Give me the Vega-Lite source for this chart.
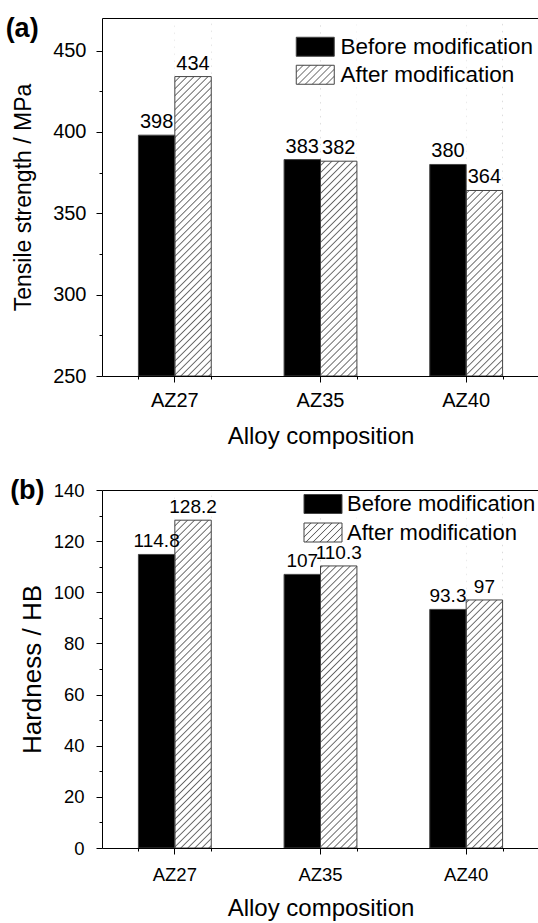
{
"$schema": "https://vega.github.io/schema/vega-lite/v6.json",
"padding": {"left": 5, "top": 14, "right": 0, "bottom": 0},
"bounds": "flush",
"spacing": 114,
"resolve": {"scale": {"fill": "independent", "stroke": "independent"}, "legend": {"fill": "independent", "stroke": "independent"}},
"config": {
  "font": "Liberation Sans",
  "view": {"stroke": null},
  "axis": {"domainColor": "black", "tickColor": "black", "labelColor": "black", "titleColor": "black", "titleFontWeight": "normal", "grid": false, "domainWidth": 1, "tickWidth": 1},
  "title": {"color": "black"}
},
"datasets": {
  "tensile": [
    {"alloy": "AZ27", "group": "Before modification", "value": 398},
    {"alloy": "AZ27", "group": "After modification", "value": 434},
    {"alloy": "AZ35", "group": "Before modification", "value": 383},
    {"alloy": "AZ35", "group": "After modification", "value": 382},
    {"alloy": "AZ40", "group": "Before modification", "value": 380},
    {"alloy": "AZ40", "group": "After modification", "value": 364}
  ],
  "hardness": [
    {"alloy": "AZ27", "group": "Before modification", "value": 114.8},
    {"alloy": "AZ27", "group": "After modification", "value": 128.2},
    {"alloy": "AZ35", "group": "Before modification", "value": 107},
    {"alloy": "AZ35", "group": "After modification", "value": 110.3},
    {"alloy": "AZ40", "group": "Before modification", "value": 93.3},
    {"alloy": "AZ40", "group": "After modification", "value": 97}
  ]
},
"vconcat": [
{
  "width": 437, "height": 358,
  "data": {"name": "tensile"},
  "title": {"text": "(a)", "anchor": "start", "frame": "bounds", "offset": -24.5, "fontSize": 27, "fontWeight": "bold", "dx": -7},
  "resolve": {"axis": {"x": "independent", "y": "independent"}},
  "layer": [
    {
      "transform": [{"filter": "datum.group === 'After modification'"}],
      "mark": {"type": "bar", "stroke": null, "yOffset": 1, "fill": {"gradient":"linear","x1":0,"y1":0,"x2":0.12305,"y2":1.20955,"stops":[
{"offset":0.013,"color":"#fff"},{"offset":0.016,"color":"#666"},{"offset":0.019,"color":"#fff"},
{"offset":0.029,"color":"#fff"},{"offset":0.032,"color":"#666"},{"offset":0.035,"color":"#fff"},
{"offset":0.045,"color":"#fff"},{"offset":0.048,"color":"#666"},{"offset":0.051,"color":"#fff"},
{"offset":0.061,"color":"#fff"},{"offset":0.064,"color":"#666"},{"offset":0.067,"color":"#fff"},
{"offset":0.077,"color":"#fff"},{"offset":0.08,"color":"#666"},{"offset":0.083,"color":"#fff"},
{"offset":0.093,"color":"#fff"},{"offset":0.096,"color":"#666"},{"offset":0.099,"color":"#fff"},
{"offset":0.109,"color":"#fff"},{"offset":0.112,"color":"#666"},{"offset":0.115,"color":"#fff"},
{"offset":0.125,"color":"#fff"},{"offset":0.128,"color":"#666"},{"offset":0.131,"color":"#fff"},
{"offset":0.141,"color":"#fff"},{"offset":0.144,"color":"#666"},{"offset":0.147,"color":"#fff"},
{"offset":0.157,"color":"#fff"},{"offset":0.16,"color":"#666"},{"offset":0.163,"color":"#fff"},
{"offset":0.173,"color":"#fff"},{"offset":0.176,"color":"#666"},{"offset":0.179,"color":"#fff"},
{"offset":0.189,"color":"#fff"},{"offset":0.192,"color":"#666"},{"offset":0.195,"color":"#fff"},
{"offset":0.205,"color":"#fff"},{"offset":0.208,"color":"#666"},{"offset":0.211,"color":"#fff"},
{"offset":0.221,"color":"#fff"},{"offset":0.224,"color":"#666"},{"offset":0.227,"color":"#fff"},
{"offset":0.237,"color":"#fff"},{"offset":0.24,"color":"#666"},{"offset":0.243,"color":"#fff"},
{"offset":0.253,"color":"#fff"},{"offset":0.256,"color":"#666"},{"offset":0.259,"color":"#fff"},
{"offset":0.269,"color":"#fff"},{"offset":0.272,"color":"#666"},{"offset":0.275,"color":"#fff"},
{"offset":0.285,"color":"#fff"},{"offset":0.288,"color":"#666"},{"offset":0.291,"color":"#fff"},
{"offset":0.301,"color":"#fff"},{"offset":0.304,"color":"#666"},{"offset":0.307,"color":"#fff"},
{"offset":0.317,"color":"#fff"},{"offset":0.32,"color":"#666"},{"offset":0.323,"color":"#fff"},
{"offset":0.333,"color":"#fff"},{"offset":0.336,"color":"#666"},{"offset":0.339,"color":"#fff"},
{"offset":0.349,"color":"#fff"},{"offset":0.352,"color":"#666"},{"offset":0.355,"color":"#fff"},
{"offset":0.365,"color":"#fff"},{"offset":0.368,"color":"#666"},{"offset":0.371,"color":"#fff"},
{"offset":0.381,"color":"#fff"},{"offset":0.384,"color":"#666"},{"offset":0.387,"color":"#fff"},
{"offset":0.397,"color":"#fff"},{"offset":0.4,"color":"#666"},{"offset":0.403,"color":"#fff"},
{"offset":0.413,"color":"#fff"},{"offset":0.416,"color":"#666"},{"offset":0.419,"color":"#fff"},
{"offset":0.429,"color":"#fff"},{"offset":0.432,"color":"#666"},{"offset":0.435,"color":"#fff"},
{"offset":0.445,"color":"#fff"},{"offset":0.448,"color":"#666"},{"offset":0.451,"color":"#fff"},
{"offset":0.461,"color":"#fff"},{"offset":0.464,"color":"#666"},{"offset":0.467,"color":"#fff"},
{"offset":0.477,"color":"#fff"},{"offset":0.48,"color":"#666"},{"offset":0.483,"color":"#fff"},
{"offset":0.493,"color":"#fff"},{"offset":0.496,"color":"#666"},{"offset":0.499,"color":"#fff"},
{"offset":0.509,"color":"#fff"},{"offset":0.512,"color":"#666"},{"offset":0.515,"color":"#fff"},
{"offset":0.525,"color":"#fff"},{"offset":0.528,"color":"#666"},{"offset":0.531,"color":"#fff"},
{"offset":0.541,"color":"#fff"},{"offset":0.544,"color":"#666"},{"offset":0.547,"color":"#fff"},
{"offset":0.557,"color":"#fff"},{"offset":0.56,"color":"#666"},{"offset":0.563,"color":"#fff"},
{"offset":0.573,"color":"#fff"},{"offset":0.576,"color":"#666"},{"offset":0.579,"color":"#fff"},
{"offset":0.589,"color":"#fff"},{"offset":0.592,"color":"#666"},{"offset":0.595,"color":"#fff"},
{"offset":0.605,"color":"#fff"},{"offset":0.608,"color":"#666"},{"offset":0.611,"color":"#fff"},
{"offset":0.621,"color":"#fff"},{"offset":0.624,"color":"#666"},{"offset":0.627,"color":"#fff"},
{"offset":0.637,"color":"#fff"},{"offset":0.64,"color":"#666"},{"offset":0.643,"color":"#fff"},
{"offset":0.653,"color":"#fff"},{"offset":0.656,"color":"#666"},{"offset":0.659,"color":"#fff"},
{"offset":0.669,"color":"#fff"},{"offset":0.672,"color":"#666"},{"offset":0.675,"color":"#fff"},
{"offset":0.685,"color":"#fff"},{"offset":0.688,"color":"#666"},{"offset":0.691,"color":"#fff"},
{"offset":0.701,"color":"#fff"},{"offset":0.704,"color":"#666"},{"offset":0.707,"color":"#fff"},
{"offset":0.717,"color":"#fff"},{"offset":0.72,"color":"#666"},{"offset":0.723,"color":"#fff"},
{"offset":0.733,"color":"#fff"},{"offset":0.736,"color":"#666"},{"offset":0.739,"color":"#fff"},
{"offset":0.749,"color":"#fff"},{"offset":0.752,"color":"#666"},{"offset":0.755,"color":"#fff"},
{"offset":0.765,"color":"#fff"},{"offset":0.768,"color":"#666"},{"offset":0.771,"color":"#fff"},
{"offset":0.781,"color":"#fff"},{"offset":0.784,"color":"#666"},{"offset":0.787,"color":"#fff"},
{"offset":0.797,"color":"#fff"},{"offset":0.8,"color":"#666"},{"offset":0.803,"color":"#fff"},
{"offset":0.813,"color":"#fff"},{"offset":0.816,"color":"#666"},{"offset":0.819,"color":"#fff"},
{"offset":0.829,"color":"#fff"},{"offset":0.832,"color":"#666"},{"offset":0.835,"color":"#fff"},
{"offset":0.845,"color":"#fff"},{"offset":0.848,"color":"#666"},{"offset":0.851,"color":"#fff"},
{"offset":0.861,"color":"#fff"},{"offset":0.864,"color":"#666"},{"offset":0.867,"color":"#fff"},
{"offset":0.877,"color":"#fff"},{"offset":0.88,"color":"#666"},{"offset":0.883,"color":"#fff"},
{"offset":0.893,"color":"#fff"},{"offset":0.896,"color":"#666"},{"offset":0.899,"color":"#fff"},
{"offset":0.909,"color":"#fff"},{"offset":0.912,"color":"#666"},{"offset":0.915,"color":"#fff"},
{"offset":0.925,"color":"#fff"},{"offset":0.928,"color":"#666"},{"offset":0.931,"color":"#fff"},
{"offset":0.941,"color":"#fff"},{"offset":0.944,"color":"#666"},{"offset":0.947,"color":"#fff"},
{"offset":0.957,"color":"#fff"},{"offset":0.96,"color":"#666"},{"offset":0.963,"color":"#fff"},
{"offset":0.973,"color":"#fff"},{"offset":0.976,"color":"#666"},{"offset":0.979,"color":"#fff"},
{"offset":0.989,"color":"#fff"},{"offset":0.992,"color":"#666"},{"offset":0.995,"color":"#fff"}
]}},
      "encoding": {
        "x": {"field": "alloy", "type": "nominal", "scale": {"paddingInner": 0.5, "paddingOuter": 0.25}, "axis": {"orient": "bottom", "tickBand": "extent", "labels": false, "domain": false, "tickSize": 3, "title": null, "zindex": 1}},
        "xOffset": {"field": "group", "type": "nominal", "scale": {"domain": ["Before modification", "After modification"]}},
        "y": {"datum": 470, "type": "quantitative", "scale": {"domain": [250, 470], "nice": false, "zero": false}, "axis": {"orient": "left", "values": [275, 325, 375, 425], "labels": false, "domain": false, "tickSize": 3, "title": null, "zindex": 1}},
        "y2": {"datum": 250}
      }
    },
    {
      "transform": [{"filter": "datum.group === 'After modification'"}],
      "mark": {"type": "bar", "fill": "white", "stroke": null, "y2Offset": 1},
      "encoding": {
        "x": {"field": "alloy", "type": "nominal", "scale": {"paddingInner": 0.5, "paddingOuter": 0.25}, "axis": {"orient": "top", "labels": false, "ticks": false, "domain": true, "title": null, "zindex": 1}},
        "xOffset": {"field": "group", "type": "nominal", "scale": {"domain": ["Before modification", "After modification"]}},
        "y": {"field": "value", "type": "quantitative", "scale": {"domain": [250, 470], "nice": false, "zero": false}, "axis": null},
        "y2": {"datum": 470}
      }
    },
    {
      "mark": {"type": "bar", "stroke": "#444", "strokeWidth": 1},
      "encoding": {
        "x": {"field": "alloy", "type": "nominal", "scale": {"paddingInner": 0.5, "paddingOuter": 0.25}, "axis": {"orient": "bottom", "title": "Alloy composition", "titleFontSize": 24, "titlePadding": 14, "labelFontSize": 20, "labelPadding": 8.5, "tickSize": 6, "labelAngle": 0, "zindex": 1}},
        "xOffset": {"field": "group", "type": "nominal", "scale": {"domain": ["Before modification", "After modification"]}},
        "y": {"field": "value", "type": "quantitative", "scale": {"domain": [250, 470], "nice": false, "zero": false}, "axis": {"orient": "left", "values": [250, 300, 350, 400, 450], "tickSize": 6, "labelFontSize": 20, "labelPadding": 10, "title": "Tensile strength / MPa", "titleFontSize": 23, "titlePadding": 17, "zindex": 1}},
        "y2": {"datum": 250},
        "fill": {"field": "group", "type": "nominal", "scale": {"domain": ["Before modification", "After modification"], "range": ["black", "transparent"]},
          "legend": {"orient": "none", "legendX": 202, "legendY": 17.5, "values": ["Before modification"], "title": null, "padding": 0, "symbolType": "M-2,-1H2V1H-2Z", "symbolSize": 361, "symbolStrokeColor": "#444", "symbolStrokeWidth": 1, "labelFontSize": 22.5, "labelColor": "black", "labelLimit": 400, "labelOffset": 14}}
      }
    },
    {
      "transform": [{"filter": "datum.group === 'After modification'"}],
      "mark": {"type": "bar", "opacity": 0, "fill": {"gradient":"linear","x1":0,"y1":0,"x2":1.17895,"y2":0.58947,"stops":[
{"offset":0.105,"color":"#fff"},{"offset":0.125,"color":"#666"},{"offset":0.145,"color":"#fff"},
{"offset":0.23,"color":"#fff"},{"offset":0.25,"color":"#666"},{"offset":0.27,"color":"#fff"},
{"offset":0.355,"color":"#fff"},{"offset":0.375,"color":"#666"},{"offset":0.395,"color":"#fff"},
{"offset":0.48,"color":"#fff"},{"offset":0.5,"color":"#666"},{"offset":0.52,"color":"#fff"},
{"offset":0.605,"color":"#fff"},{"offset":0.625,"color":"#666"},{"offset":0.645,"color":"#fff"},
{"offset":0.73,"color":"#fff"},{"offset":0.75,"color":"#666"},{"offset":0.77,"color":"#fff"},
{"offset":0.855,"color":"#fff"},{"offset":0.875,"color":"#666"},{"offset":0.895,"color":"#fff"}
]}},
      "encoding": {
        "x": {"field": "alloy", "type": "nominal", "scale": {"paddingInner": 0.5, "paddingOuter": 0.25}, "axis": null},
        "xOffset": {"field": "group", "type": "nominal", "scale": {"domain": ["Before modification", "After modification"]}},
        "y": {"field": "value", "type": "quantitative", "scale": {"domain": [250, 470], "nice": false, "zero": false}, "axis": null},
        "y2": {"datum": 250},
        "stroke": {"field": "group", "type": "nominal", "scale": {"domain": ["After modification"], "range": ["#444"]},
          "legend": {"orient": "none", "legendX": 202, "legendY": 45.5, "title": null, "padding": 0, "symbolType": "M-2,-1H2V1H-2Z", "symbolSize": 361, "symbolStrokeWidth": 1, "symbolOpacity": 1, "labelFontSize": 22.5, "labelColor": "black", "labelLimit": 400, "labelOffset": 14}}
      }
    },
    {
      "mark": {"type": "text", "dy": -7, "baseline": "alphabetic", "fontSize": 20, "color": "black"},
      "encoding": {
        "x": {"field": "alloy", "type": "nominal", "scale": {"paddingInner": 0.5, "paddingOuter": 0.25}, "axis": null},
        "xOffset": {"field": "group", "type": "nominal", "scale": {"domain": ["Before modification", "After modification"]}},
        "y": {"field": "value", "type": "quantitative", "scale": {"domain": [250, 470], "nice": false, "zero": false}, "axis": null},
        "text": {"field": "value", "type": "nominal"}
      }
    }
  ]
},
{
  "width": 437, "height": 358,
  "data": {"name": "hardness"},
  "title": {"text": "(b)", "anchor": "start", "frame": "bounds", "offset": -23.5, "fontSize": 27, "fontWeight": "bold", "dx": -9},
  "resolve": {"axis": {"x": "independent", "y": "independent"}},
  "layer": [
    {
      "transform": [{"filter": "datum.group === 'After modification'"}],
      "mark": {"type": "bar", "stroke": null, "yOffset": 1, "fill": {"gradient":"linear","x1":0,"y1":0,"x2":0.12305,"y2":1.20955,"stops":[
{"offset":0.013,"color":"#fff"},{"offset":0.016,"color":"#666"},{"offset":0.019,"color":"#fff"},
{"offset":0.029,"color":"#fff"},{"offset":0.032,"color":"#666"},{"offset":0.035,"color":"#fff"},
{"offset":0.045,"color":"#fff"},{"offset":0.048,"color":"#666"},{"offset":0.051,"color":"#fff"},
{"offset":0.061,"color":"#fff"},{"offset":0.064,"color":"#666"},{"offset":0.067,"color":"#fff"},
{"offset":0.077,"color":"#fff"},{"offset":0.08,"color":"#666"},{"offset":0.083,"color":"#fff"},
{"offset":0.093,"color":"#fff"},{"offset":0.096,"color":"#666"},{"offset":0.099,"color":"#fff"},
{"offset":0.109,"color":"#fff"},{"offset":0.112,"color":"#666"},{"offset":0.115,"color":"#fff"},
{"offset":0.125,"color":"#fff"},{"offset":0.128,"color":"#666"},{"offset":0.131,"color":"#fff"},
{"offset":0.141,"color":"#fff"},{"offset":0.144,"color":"#666"},{"offset":0.147,"color":"#fff"},
{"offset":0.157,"color":"#fff"},{"offset":0.16,"color":"#666"},{"offset":0.163,"color":"#fff"},
{"offset":0.173,"color":"#fff"},{"offset":0.176,"color":"#666"},{"offset":0.179,"color":"#fff"},
{"offset":0.189,"color":"#fff"},{"offset":0.192,"color":"#666"},{"offset":0.195,"color":"#fff"},
{"offset":0.205,"color":"#fff"},{"offset":0.208,"color":"#666"},{"offset":0.211,"color":"#fff"},
{"offset":0.221,"color":"#fff"},{"offset":0.224,"color":"#666"},{"offset":0.227,"color":"#fff"},
{"offset":0.237,"color":"#fff"},{"offset":0.24,"color":"#666"},{"offset":0.243,"color":"#fff"},
{"offset":0.253,"color":"#fff"},{"offset":0.256,"color":"#666"},{"offset":0.259,"color":"#fff"},
{"offset":0.269,"color":"#fff"},{"offset":0.272,"color":"#666"},{"offset":0.275,"color":"#fff"},
{"offset":0.285,"color":"#fff"},{"offset":0.288,"color":"#666"},{"offset":0.291,"color":"#fff"},
{"offset":0.301,"color":"#fff"},{"offset":0.304,"color":"#666"},{"offset":0.307,"color":"#fff"},
{"offset":0.317,"color":"#fff"},{"offset":0.32,"color":"#666"},{"offset":0.323,"color":"#fff"},
{"offset":0.333,"color":"#fff"},{"offset":0.336,"color":"#666"},{"offset":0.339,"color":"#fff"},
{"offset":0.349,"color":"#fff"},{"offset":0.352,"color":"#666"},{"offset":0.355,"color":"#fff"},
{"offset":0.365,"color":"#fff"},{"offset":0.368,"color":"#666"},{"offset":0.371,"color":"#fff"},
{"offset":0.381,"color":"#fff"},{"offset":0.384,"color":"#666"},{"offset":0.387,"color":"#fff"},
{"offset":0.397,"color":"#fff"},{"offset":0.4,"color":"#666"},{"offset":0.403,"color":"#fff"},
{"offset":0.413,"color":"#fff"},{"offset":0.416,"color":"#666"},{"offset":0.419,"color":"#fff"},
{"offset":0.429,"color":"#fff"},{"offset":0.432,"color":"#666"},{"offset":0.435,"color":"#fff"},
{"offset":0.445,"color":"#fff"},{"offset":0.448,"color":"#666"},{"offset":0.451,"color":"#fff"},
{"offset":0.461,"color":"#fff"},{"offset":0.464,"color":"#666"},{"offset":0.467,"color":"#fff"},
{"offset":0.477,"color":"#fff"},{"offset":0.48,"color":"#666"},{"offset":0.483,"color":"#fff"},
{"offset":0.493,"color":"#fff"},{"offset":0.496,"color":"#666"},{"offset":0.499,"color":"#fff"},
{"offset":0.509,"color":"#fff"},{"offset":0.512,"color":"#666"},{"offset":0.515,"color":"#fff"},
{"offset":0.525,"color":"#fff"},{"offset":0.528,"color":"#666"},{"offset":0.531,"color":"#fff"},
{"offset":0.541,"color":"#fff"},{"offset":0.544,"color":"#666"},{"offset":0.547,"color":"#fff"},
{"offset":0.557,"color":"#fff"},{"offset":0.56,"color":"#666"},{"offset":0.563,"color":"#fff"},
{"offset":0.573,"color":"#fff"},{"offset":0.576,"color":"#666"},{"offset":0.579,"color":"#fff"},
{"offset":0.589,"color":"#fff"},{"offset":0.592,"color":"#666"},{"offset":0.595,"color":"#fff"},
{"offset":0.605,"color":"#fff"},{"offset":0.608,"color":"#666"},{"offset":0.611,"color":"#fff"},
{"offset":0.621,"color":"#fff"},{"offset":0.624,"color":"#666"},{"offset":0.627,"color":"#fff"},
{"offset":0.637,"color":"#fff"},{"offset":0.64,"color":"#666"},{"offset":0.643,"color":"#fff"},
{"offset":0.653,"color":"#fff"},{"offset":0.656,"color":"#666"},{"offset":0.659,"color":"#fff"},
{"offset":0.669,"color":"#fff"},{"offset":0.672,"color":"#666"},{"offset":0.675,"color":"#fff"},
{"offset":0.685,"color":"#fff"},{"offset":0.688,"color":"#666"},{"offset":0.691,"color":"#fff"},
{"offset":0.701,"color":"#fff"},{"offset":0.704,"color":"#666"},{"offset":0.707,"color":"#fff"},
{"offset":0.717,"color":"#fff"},{"offset":0.72,"color":"#666"},{"offset":0.723,"color":"#fff"},
{"offset":0.733,"color":"#fff"},{"offset":0.736,"color":"#666"},{"offset":0.739,"color":"#fff"},
{"offset":0.749,"color":"#fff"},{"offset":0.752,"color":"#666"},{"offset":0.755,"color":"#fff"},
{"offset":0.765,"color":"#fff"},{"offset":0.768,"color":"#666"},{"offset":0.771,"color":"#fff"},
{"offset":0.781,"color":"#fff"},{"offset":0.784,"color":"#666"},{"offset":0.787,"color":"#fff"},
{"offset":0.797,"color":"#fff"},{"offset":0.8,"color":"#666"},{"offset":0.803,"color":"#fff"},
{"offset":0.813,"color":"#fff"},{"offset":0.816,"color":"#666"},{"offset":0.819,"color":"#fff"},
{"offset":0.829,"color":"#fff"},{"offset":0.832,"color":"#666"},{"offset":0.835,"color":"#fff"},
{"offset":0.845,"color":"#fff"},{"offset":0.848,"color":"#666"},{"offset":0.851,"color":"#fff"},
{"offset":0.861,"color":"#fff"},{"offset":0.864,"color":"#666"},{"offset":0.867,"color":"#fff"},
{"offset":0.877,"color":"#fff"},{"offset":0.88,"color":"#666"},{"offset":0.883,"color":"#fff"},
{"offset":0.893,"color":"#fff"},{"offset":0.896,"color":"#666"},{"offset":0.899,"color":"#fff"},
{"offset":0.909,"color":"#fff"},{"offset":0.912,"color":"#666"},{"offset":0.915,"color":"#fff"},
{"offset":0.925,"color":"#fff"},{"offset":0.928,"color":"#666"},{"offset":0.931,"color":"#fff"},
{"offset":0.941,"color":"#fff"},{"offset":0.944,"color":"#666"},{"offset":0.947,"color":"#fff"},
{"offset":0.957,"color":"#fff"},{"offset":0.96,"color":"#666"},{"offset":0.963,"color":"#fff"},
{"offset":0.973,"color":"#fff"},{"offset":0.976,"color":"#666"},{"offset":0.979,"color":"#fff"},
{"offset":0.989,"color":"#fff"},{"offset":0.992,"color":"#666"},{"offset":0.995,"color":"#fff"}
]}},
      "encoding": {
        "x": {"field": "alloy", "type": "nominal", "scale": {"paddingInner": 0.5, "paddingOuter": 0.25}, "axis": {"orient": "bottom", "tickBand": "extent", "labels": false, "domain": false, "tickSize": 3, "title": null, "zindex": 1}},
        "xOffset": {"field": "group", "type": "nominal", "scale": {"domain": ["Before modification", "After modification"]}},
        "y": {"datum": 140, "type": "quantitative", "scale": {"domain": [0, 140], "nice": false, "zero": false}, "axis": {"orient": "left", "values": [10, 30, 50, 70, 90, 110, 130], "labels": false, "domain": false, "tickSize": 3, "title": null, "zindex": 1}},
        "y2": {"datum": 0}
      }
    },
    {
      "transform": [{"filter": "datum.group === 'After modification'"}],
      "mark": {"type": "bar", "fill": "white", "stroke": null, "y2Offset": 1},
      "encoding": {
        "x": {"field": "alloy", "type": "nominal", "scale": {"paddingInner": 0.5, "paddingOuter": 0.25}, "axis": {"orient": "top", "labels": false, "ticks": false, "domain": true, "title": null, "zindex": 1}},
        "xOffset": {"field": "group", "type": "nominal", "scale": {"domain": ["Before modification", "After modification"]}},
        "y": {"field": "value", "type": "quantitative", "scale": {"domain": [0, 140], "nice": false, "zero": false}, "axis": null},
        "y2": {"datum": 140}
      }
    },
    {
      "mark": {"type": "bar", "stroke": "#444", "strokeWidth": 1},
      "encoding": {
        "x": {"field": "alloy", "type": "nominal", "scale": {"paddingInner": 0.5, "paddingOuter": 0.25}, "axis": {"orient": "bottom", "title": "Alloy composition", "titleFontSize": 24, "titlePadding": 13, "labelFontSize": 18.5, "labelPadding": 11, "tickSize": 6, "labelAngle": 0, "zindex": 1}},
        "xOffset": {"field": "group", "type": "nominal", "scale": {"domain": ["Before modification", "After modification"]}},
        "y": {"field": "value", "type": "quantitative", "scale": {"domain": [0, 140], "nice": false, "zero": false}, "axis": {"orient": "left", "values": [0, 20, 40, 60, 80, 100, 120, 140], "tickSize": 6, "labelFontSize": 18.5, "labelPadding": 12, "title": "Hardness / HB", "titleFontSize": 26, "titlePadding": 8, "zindex": 1}},
        "y2": {"datum": 0},
        "fill": {"field": "group", "type": "nominal", "scale": {"domain": ["Before modification", "After modification"], "range": ["black", "transparent"]},
          "legend": {"orient": "none", "legendX": 210, "legendY": 3, "values": ["Before modification"], "title": null, "padding": 0, "symbolType": "M-2,-1H2V1H-2Z", "symbolSize": 361, "symbolStrokeColor": "#444", "symbolStrokeWidth": 1, "labelFontSize": 22, "labelColor": "black", "labelLimit": 400, "labelOffset": 13}}
      }
    },
    {
      "transform": [{"filter": "datum.group === 'After modification'"}],
      "mark": {"type": "bar", "opacity": 0, "fill": {"gradient":"linear","x1":0,"y1":0,"x2":1.17895,"y2":0.58947,"stops":[
{"offset":0.105,"color":"#fff"},{"offset":0.125,"color":"#666"},{"offset":0.145,"color":"#fff"},
{"offset":0.23,"color":"#fff"},{"offset":0.25,"color":"#666"},{"offset":0.27,"color":"#fff"},
{"offset":0.355,"color":"#fff"},{"offset":0.375,"color":"#666"},{"offset":0.395,"color":"#fff"},
{"offset":0.48,"color":"#fff"},{"offset":0.5,"color":"#666"},{"offset":0.52,"color":"#fff"},
{"offset":0.605,"color":"#fff"},{"offset":0.625,"color":"#666"},{"offset":0.645,"color":"#fff"},
{"offset":0.73,"color":"#fff"},{"offset":0.75,"color":"#666"},{"offset":0.77,"color":"#fff"},
{"offset":0.855,"color":"#fff"},{"offset":0.875,"color":"#666"},{"offset":0.895,"color":"#fff"}
]}},
      "encoding": {
        "x": {"field": "alloy", "type": "nominal", "scale": {"paddingInner": 0.5, "paddingOuter": 0.25}, "axis": null},
        "xOffset": {"field": "group", "type": "nominal", "scale": {"domain": ["Before modification", "After modification"]}},
        "y": {"field": "value", "type": "quantitative", "scale": {"domain": [0, 140], "nice": false, "zero": false}, "axis": null},
        "y2": {"datum": 0},
        "stroke": {"field": "group", "type": "nominal", "scale": {"domain": ["After modification"], "range": ["#444"]},
          "legend": {"orient": "none", "legendX": 210, "legendY": 31.5, "title": null, "padding": 0, "symbolType": "M-2,-1H2V1H-2Z", "symbolSize": 361, "symbolStrokeWidth": 1, "symbolOpacity": 1, "labelFontSize": 22, "labelColor": "black", "labelLimit": 400, "labelOffset": 13}}
      }
    },
    {
      "mark": {"type": "text", "dy": -7, "baseline": "alphabetic", "fontSize": 19, "color": "black"},
      "encoding": {
        "x": {"field": "alloy", "type": "nominal", "scale": {"paddingInner": 0.5, "paddingOuter": 0.25}, "axis": null},
        "xOffset": {"field": "group", "type": "nominal", "scale": {"domain": ["Before modification", "After modification"]}},
        "y": {"field": "value", "type": "quantitative", "scale": {"domain": [0, 140], "nice": false, "zero": false}, "axis": null},
        "text": {"field": "value", "type": "nominal"}
      }
    }
  ]
}
]
}
